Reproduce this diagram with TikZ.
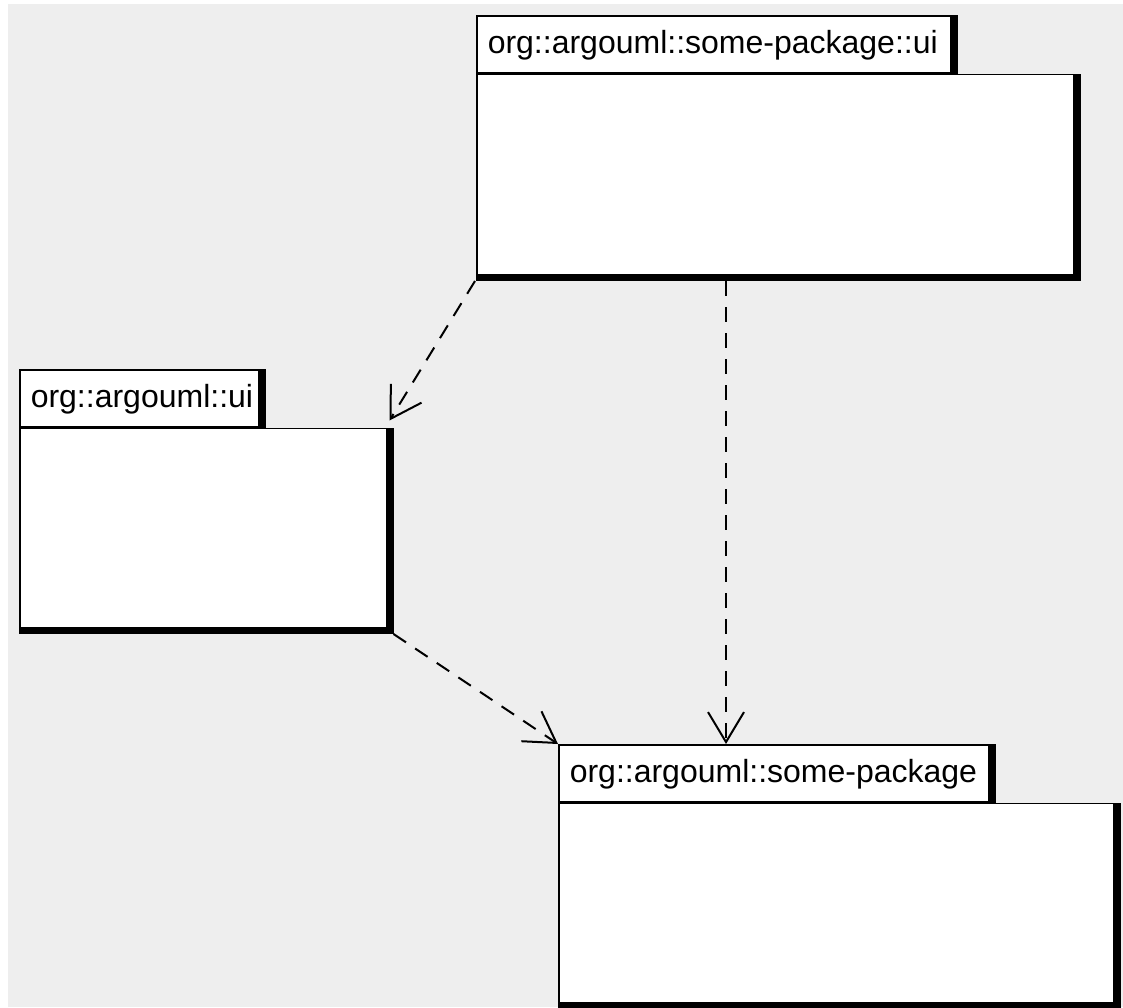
\documentclass[tikz,border=0pt]{standalone}
\usepackage{fontspec}
\setmainfont{Liberation Sans}
\usetikzlibrary{arrows.meta}
\usetikzlibrary{backgrounds}
\definecolor{bggray}{RGB}{238,238,238}

\begin{document}
\begin{tikzpicture}[x={(1pt,0)},y={(0,-1pt)}]
  \tikzset{pkgtab/.style = {draw,fill=white,line width=1.5pt,anchor=north west,inner xsep=11pt,inner ysep=0pt,minimum height=57pt,text height=24pt,text depth=6pt,align=left,font=\fontsize{32}{38}\selectfont}}
  \tikzset{pkgbody/.style = {draw,fill=white,line width=1.5pt,anchor=north west,inner sep=0pt}}
  \tikzset{dep/.style = {line width=2pt,dash pattern=on 15pt off 11pt,-{Straight Barb[length=30pt,width=36pt,line width=2pt]}}}

  \useasboundingbox (0,0) rectangle (1123,1007);

  % packages
	\node[pkgtab,text width=452pt] (Atab) at (476,15) {\mbox{org::argouml::some-package::ui}};
	\node[pkgbody,minimum width=597pt,minimum height=200pt] (Abody) at (Atab.south west) {};

	\node[pkgtab,text width=217pt] (Btab) at (19,369) {\mbox{org::argouml::ui}};
	\node[pkgbody,minimum width=367pt,minimum height=199pt] (Bbody) at (Btab.south west) {};

	\node[pkgtab,text width=408pt] (Ctab) at (558,744) {\mbox{org::argouml::some-package}};
	\node[pkgbody,minimum width=555pt,minimum height=199pt] (Cbody) at (Ctab.south west) {};

  % shadows
  \begin{scope}[on background layer]
    \fill[white] (0,0) rectangle (1123,1007);
    \fill[bggray] (8,4) rectangle (1123,1007);
    \foreach \p in {A,B,C} {
      \fill (\p tab.north west) rectangle ([xshift=6pt]\p tab.south east);
      \fill (\p body.north west) rectangle ([shift={(6pt,-6pt)}]\p body.south east);
    }
  \end{scope}

  % dependency ends
  \coordinate (Aleft) at ([shift={(-1pt,-6pt)}]Abody.south west);
  \coordinate (Amid) at ([shift={(250pt,-6pt)}]Abody.south west);
  \coordinate (Bin) at ([shift={(2pt,7pt)}]Bbody.north east);
  \coordinate (Bout) at ([shift={(6pt,-6pt)}]Bbody.south east);
  \coordinate (Cleft) at (Ctab.north west);
  \coordinate (Cmid) at ([xshift=168pt]Ctab.north west);

       \foreach \from/\to in {Aleft/Bin, Amid/Cmid, Bout/Cleft}
    \draw[dep] (\from) -- (\to);
\end{tikzpicture}
\end{document}
